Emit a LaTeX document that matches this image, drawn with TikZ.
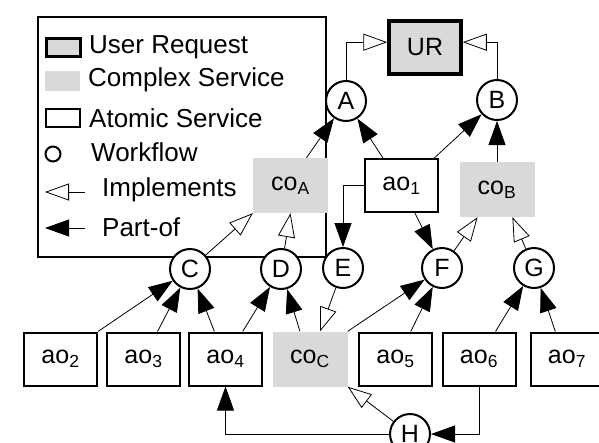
\documentclass[tikz,border=0pt]{standalone}
\usepackage{fontspec}
\setmainfont{Liberation Sans}
\usetikzlibrary{arrows.meta}
\definecolor{svcgray}{HTML}{D9D9D9}
\tikzset{
	wf/.style={circle, draw, line width=2pt, fill=white, minimum size=40pt, inner sep=0pt},
	atomic/.style={draw, line width=2pt, fill=white, minimum width=73pt, minimum height=53pt, inner sep=0pt},
	complex/.style={fill=svcgray, minimum width=75pt, minimum height=55pt, inner sep=0pt},
	request/.style={draw, line width=3.5pt, fill=svcgray, minimum width=72pt, minimum height=53pt, inner sep=0pt},
	partof/.style={line width=0.8pt, -{Triangle[length=24pt,width=17pt]}},
	impl/.style={line width=0.8pt, -{Triangle[open,fill=white,length=24pt,width=17pt]}},
	legtext/.style={anchor=west, inner sep=0pt, font=\fontsize{26}{30}\selectfont},
}
\begin{document}
\begin{tikzpicture}[x=1pt, y=-1pt, font=\fontsize{25}{30}\selectfont]
	\useasboundingbox (0,0) rectangle (599,442);
	% ==================== legend ====================
	\draw[line width=2pt] (38,17) rectangle (326,257);
	\draw[line width=3pt, fill=svcgray] (46,38) rectangle (80,56);
	\fill[svcgray] (45,71) rectangle (80,91);
	\draw[line width=2pt] (46,109) rectangle (80,127);
	\draw[line width=2pt] (53,154) circle (7.5);
	\draw[impl] (85,192) -- (45,192);
	\draw[partof] (85,228) -- (45,228);
	\node[legtext] (lgUR) at (89,47) {User Request};
	\node[legtext] (lgCO) at (88,80) {Complex Service};
	\node[legtext] (lgAO) at (89,118) {Atomic Service};
	\node[legtext] (lgWF) at (91,152) {Workflow};
	\node[legtext] (lgIM) at (102,190) {Implements};
	\node[legtext] (lgPO) at (102,227) {Part-of};
	
	% ==================== services ====================
	\node[request] (UR) at (425,47.5) {UR};
	\node[complex] (coA) at (290.5,185.5) {co\textsubscript{A}};
	\node[atomic] (ao1) at (401.5,185.5) {ao\textsubscript{1}};
	\node[complex] (coB) at (497,189.5) {co\textsubscript{B}};
	
	\node[atomic] (ao2) at (60.5,359) {ao\textsubscript{2}};
	\node[atomic] (ao3) at (143.5,359) {ao\textsubscript{3}};
	\node[atomic] (ao4) at (225.5,359) {ao\textsubscript{4}};
	\node[complex] (coC) at (310,359) {co\textsubscript{C}};
	\node[atomic] (ao5) at (395.5,359) {ao\textsubscript{5}};
	\node[atomic] (ao6) at (479,359) {ao\textsubscript{6}};
	\node[atomic] (ao7) at (567,359) {ao\textsubscript{7}};
	
	% ==================== workflows ====================
	\node[wf] (A) at (346,101) {A};
	\node[wf] (B) at (497,100) {B};
	\node[wf] (C) at (190,269) {C};
	\node[wf] (D) at (281,269) {D};
	\node[wf] (E) at (343,268) {E};
	\node[wf] (F) at (442,268) {F};
	\node[wf] (G) at (534,268) {G};
	\node[wf] (H) at (410,434) {H};
	
	% --- implements ---
	\draw[impl] (A) |- (UR.172);
	\draw[impl] (B) |- (UR.8);
	\draw[impl] (C) -- (coA.south west);
	\draw[impl] (D) -- (coA.south);
	\draw[impl] (E) -- (coC.70);
	\draw[impl] (F) -- (coB.235);
	\draw[impl] (G) -- (coB.299);
	\draw[impl] (H) -- (coC.south east);
	
	% --- part-of ---
	\draw[partof] (coA.60) -- (A);
	\draw[partof] (ao1.124) -- (A);
	\draw[partof] (ao1.40) -- (B);
	\draw[partof] (coB) -- (B);
	\draw[partof] (ao1.west) -| (E);
	\draw[partof] (ao1.296) -- (F);
	\draw[partof] (ao2.north east) -- (C);
	\draw[partof] (ao3.63) -- (C);
	\draw[partof] (ao4.112) -- (C);
	\draw[partof] (ao4.58) -- (D);
	\draw[partof] (coC.110) -- (D);
	\draw[partof] (coC.north east) -- (F);
	\draw[partof] (ao5.61) -- (F);
	\draw[partof] (ao6.59) -- (G);
	\draw[partof] (ao7.113) -- (G);
	\draw[partof] (ao6.south) |- (H);
	\draw[partof] (H) -| (ao4.south);
\end{tikzpicture}
\end{document}
